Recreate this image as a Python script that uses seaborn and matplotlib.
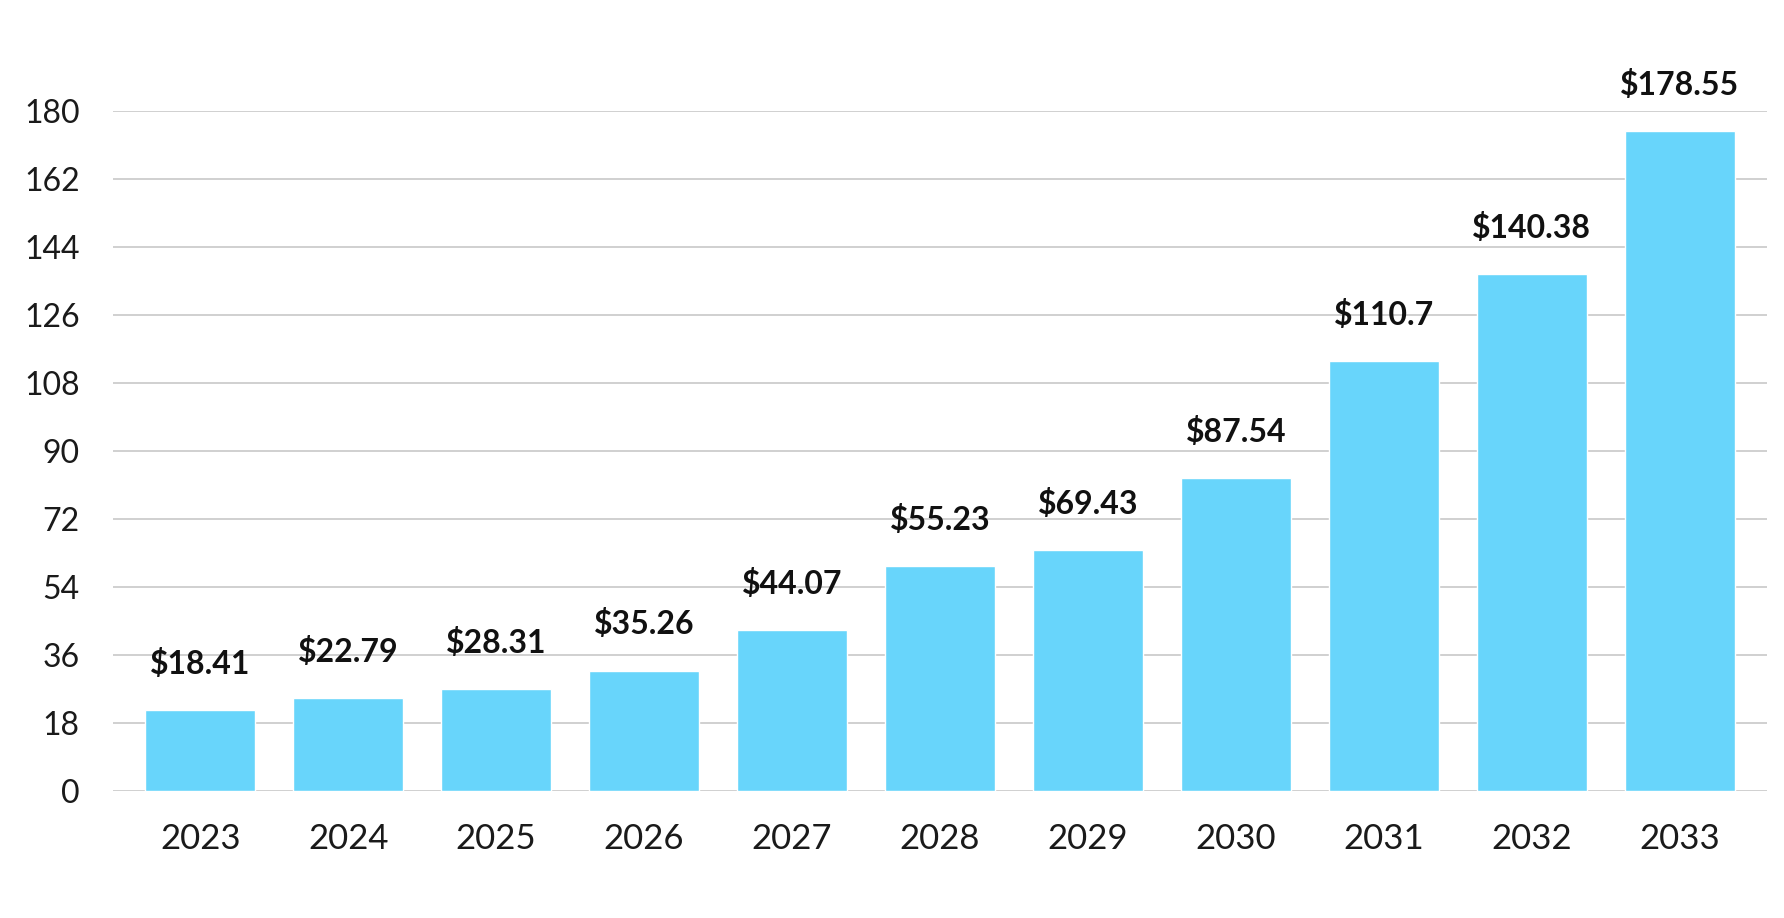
import matplotlib
matplotlib.use("Agg")
import matplotlib.pyplot as plt
import seaborn as sns
import pandas as pd

# chart values
years = ["2023", "2024", "2025", "2026", "2027", "2028", "2029", "2030", "2031", "2032", "2033"]
bar_heights = [21.5, 24.5, 27.1, 31.9, 42.5, 59.5, 63.7, 82.8, 113.9, 136.9, 174.8]
value_labels = ["$18.41", "$22.79", "$28.31", "$35.26", "$44.07", "$55.23",
                "$69.43", "$87.54", "$110.7", "$140.38", "$178.55"]
y_ticks = [0, 18, 36, 54, 72, 90, 108, 126, 144, 162, 180]

df = pd.DataFrame({"year": years, "value": bar_heights})

sns.set_style("white")
plt.rcParams["font.family"] = ["Lato", "DejaVu Sans"]

fig = plt.figure(figsize=(17.84, 9.18), dpi=100)
ax = fig.add_axes([0.0633, 0.1383, 0.9272, 0.7407])

sns.barplot(data=df, x="year", y="value", color="#68D5FB", saturation=1,
            width=0.74, ax=ax, zorder=3)

# labels above the bars
for i, p in enumerate(ax.patches):
    ax.annotate(value_labels[i], (p.get_x() + p.get_width() / 2, p.get_height()),
                xytext=(0, 26), textcoords="offset points", ha="center",
                va="baseline", fontsize=23, fontweight="bold", color="#111111",
                annotation_clip=False)

ax.set_ylim(0, 180)
ax.set_xlim(-0.59, 10.59)
ax.set_yticks(y_ticks)
ax.set_yticklabels([str(t) for t in y_ticks])
for t in y_ticks:
    ax.axhline(t, color="#c4c4c4", lw=1.1, zorder=1)

for s in ax.spines.values():
    s.set_visible(False)
ax.tick_params(axis="both", length=0, labelsize=23, labelcolor="#1a1a1a")
ax.tick_params(axis="x", labelsize=25, pad=23)
ax.tick_params(axis="y", pad=24)
ax.set_xlabel("")
ax.set_ylabel("")

fig.savefig("out.png", dpi=100)
